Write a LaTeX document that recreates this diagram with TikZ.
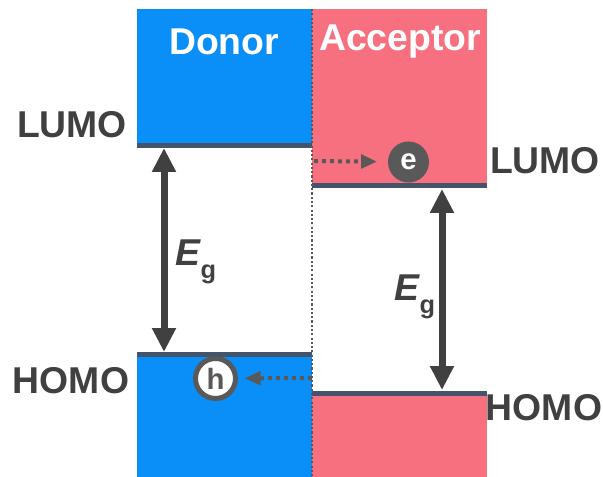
\documentclass[tikz,border=0pt]{standalone}
\usepackage{fontspec}
\setmainfont{Liberation Sans}
\usetikzlibrary{arrows.meta}
\definecolor{donorblue}{HTML}{0A8EF8}
\definecolor{accpink}{HTML}{F7707F}
\definecolor{levelgray}{HTML}{44546A}
\definecolor{txtgray}{HTML}{404040}
\definecolor{dotgray}{HTML}{595959}
\begin{document}
\begin{tikzpicture}[x=0.75pt, y=-0.75pt,
    every node/.style={font=\fontsize{28}{28}\selectfont\bfseries, text=txtgray, inner sep=0pt},
    level/.style={levelgray, line width=3.75pt},
    gap/.style={{Triangle[width=17pt,length=18pt]}-{Triangle[width=17pt,length=18pt]}, txtgray, line width=5.25pt},
    transfer/.style={-{Triangle[width=10pt,length=12pt]}, dotgray, line width=3pt, dash pattern=on 3pt off 3pt},
    carrier/.style={circle, minimum size=30.75pt, font=\fontsize{22}{22}\selectfont\bfseries}]
    \useasboundingbox (0,0) rectangle (603,477);
    % donor and acceptor bands
    \fill[donorblue] (137,9) rectangle (312,145);
    \fill[donorblue] (137,354) rectangle (312,477);
    \fill[accpink] (312,9) rectangle (487,186);
    \fill[accpink] (312,393) rectangle (487,477);
    \draw[level] (137,145.5) -- (312,145.5);
    \draw[level] (312,186) -- (487,186);
    \draw[level] (137,354.5) -- (312,354.5);
    \draw[level] (312,393) -- (487,393);
    \draw[dotgray, line width=1.6pt, dash pattern=on 1.6pt off 1.6pt] (312,9) -- (312,477);
    % labels
    \node[text=white] (donor) at (224,42) {Donor};
    \node[text=white] (acceptor) at (400,42) {Acceptor};
    \node (lumod) at (72,125) {LUMO};
    \node (homod) at (71,381) {HOMO};
    \node (lumoa) at (545,161) {LUMO};
    \node (homoa) at (544,408) {HOMO};
    \node (egd) at (196,262) {\itshape E\upshape\raisebox{-10pt}{\fontsize{19}{19}\selectfont g}};
    \node (ega) at (415,297) {\itshape E\upshape\raisebox{-10pt}{\fontsize{19}{19}\selectfont g}};
    % band gaps
    \coordinate (dtop) at (164,148);
    \coordinate (dbot) at (164,352);
    \coordinate (atop) at (442,189);
    \coordinate (abot) at (442,390);
    \draw[gap] (dtop) -- (dbot);
    \draw[gap] (atop) -- (abot);
    % charge transfer
    \node[carrier, fill=dotgray, text=white] (elec) at (408.5,162) {e};
    \node[carrier, minimum size=30pt, draw=dotgray, line width=3.75pt, fill=white, text=dotgray] (hole) at (215.5,378.5) {h};
    \coordinate (eout) at (314,161);
    \coordinate (hout) at (312,378);
    \draw[transfer, shorten >=8pt] (eout) -- (elec);
    \draw[transfer, shorten >=5pt] (hout) -- (hole);
\end{tikzpicture}
\end{document}
